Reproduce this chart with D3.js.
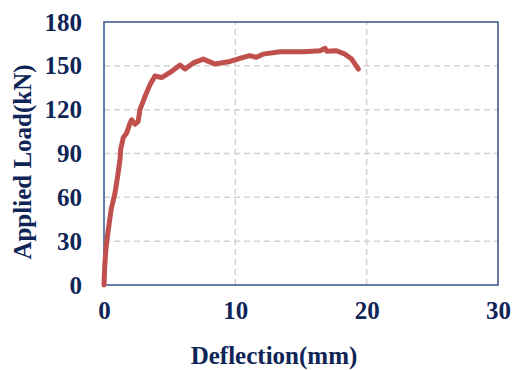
<!DOCTYPE html>
<html><head><meta charset="utf-8">
<script src="https://cdn.jsdelivr.net/npm/d3@7"></script>
<style>body{margin:0;background:#fff}svg{display:block}</style>
</head><body>
<script>
const deflection = [0,0.05,0.15,0.33,0.55,0.84,1.05,1.22,1.27,1.47,1.73,1.95,2.1,2.36,2.6,2.74,3.12,3.5,3.88,4.39,5.03,5.79,6.17,6.8,7.56,8.45,9.6,10.3,11.1,11.6,12.1,13.4,15.2,16.45,16.83,16.96,17.7,18.35,18.86,19.37];
const load = [0,12,25,38,52,63,75,86,93,101,104,110,113,110,112,120,129,137,143,142,145.5,150.5,147.8,152,154.6,151.2,153,155,157,155.8,158,159.7,159.7,160.3,162,160,160.3,158,154.6,147.8];
const xTicks = [0,10,20,30];
const yTicks = [0,30,60,90,120,150,180];

const W=514,H=370;
const m={l:104,r:16,t:22,b:85};
const svg=d3.select("body").append("svg").attr("width",W).attr("height",H);
const x=d3.scaleLinear().domain([0,30]).range([m.l,W-m.r]);
const y=d3.scaleLinear().domain([0,180]).range([H-m.b,m.t]);
const txt="#0F2557", axc="#34528C";
const font="'Liberation Serif','Times New Roman',serif";

// grid
svg.append("g").selectAll("line").data(yTicks.filter(d=>d>0&&d<180)).join("line")
 .attr("x1",x(0)).attr("x2",x(30)).attr("y1",d=>y(d)).attr("y2",d=>y(d))
 .attr("stroke","#D3D3D3").attr("stroke-width",1.5).attr("stroke-dasharray","6,4");
svg.append("g").selectAll("line").data(xTicks.filter(d=>d>0&&d<30)).join("line")
 .attr("x1",d=>x(d)).attr("x2",d=>x(d)).attr("y1",y(0)).attr("y2",y(180))
 .attr("stroke","#D3D3D3").attr("stroke-width",1.5).attr("stroke-dasharray","6,4");

// box
svg.append("rect").attr("x",x(0)).attr("y",y(180)).attr("width",x(30)-x(0)).attr("height",y(0)-y(180))
 .attr("fill","none").attr("stroke",axc).attr("stroke-width",1.5);

// axes labels via d3 axes
const ax=svg.append("g").attr("transform",`translate(0,${y(0)})`)
 .call(d3.axisBottom(x).tickValues(xTicks).tickSize(0).tickPadding(16));
const ay=svg.append("g").attr("transform",`translate(${x(0)},0)`)
 .call(d3.axisLeft(y).tickValues(yTicks).tickSize(0).tickPadding(22));
[ax,ay].forEach(g=>{g.select(".domain").remove();
 g.selectAll("text").attr("font-family",font).attr("font-weight","bold").attr("font-size",25).attr("fill",txt);});

// line
svg.append("path").datum(deflection.map((d,i)=>[d,load[i]]))
 .attr("d",d3.line().x(d=>x(d[0])).y(d=>y(d[1])))
 .attr("fill","none").attr("stroke","#C0504D").attr("stroke-width",5)
 .attr("stroke-linejoin","round").attr("stroke-linecap","round");

svg.append("text").attr("x",274).attr("y",364).attr("text-anchor","middle")
 .attr("font-family",font).attr("font-weight","bold").attr("font-size",25).attr("fill",txt).text("Deflection(mm)");
svg.append("text").attr("transform","translate(31,162) rotate(-90)").attr("text-anchor","middle")
 .attr("font-family",font).attr("font-weight","bold").attr("font-size",25).attr("fill",txt).text("Applied Load(kN)");
</script>
</body></html>
